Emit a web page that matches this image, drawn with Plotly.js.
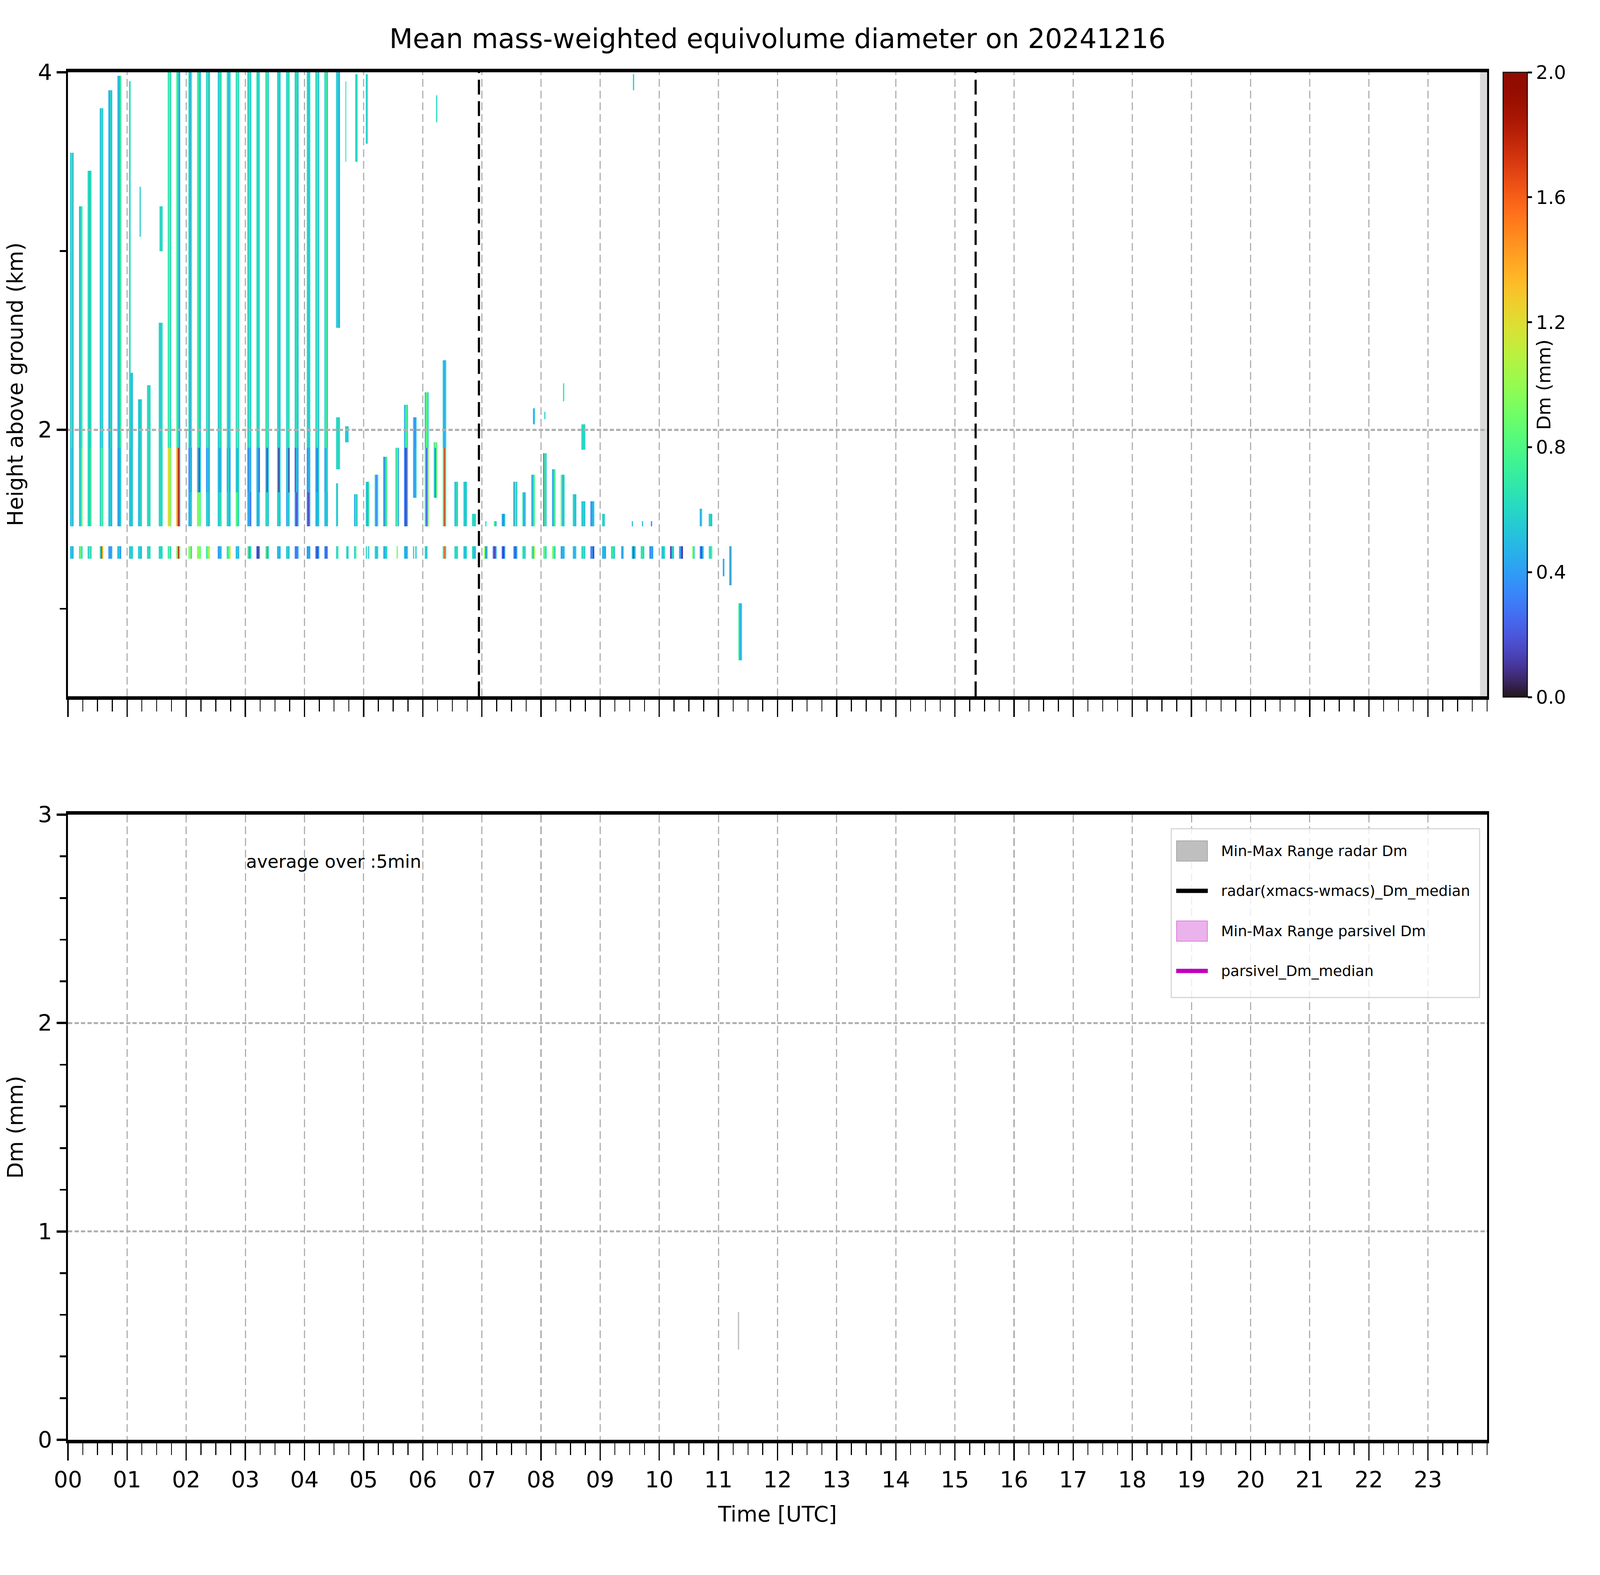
<!DOCTYPE html>
<html><head><meta charset="utf-8">
<script src="https://cdn.plot.ly/plotly-3.0.1.min.js"></script>
<style>html,body{margin:0;padding:0;background:#fff;overflow:hidden;}</style>
</head><body><div id="chart"></div>
<script>
// ---------- DATA ----------
// radar scan centre times, minutes after 00:00 UTC
const scanMin = [4,13,22,34,43,52,64,73,82,94,103,112,124,133,142,154,163,172,184,193,202,214,223,232,244,253,262,274,283,292,304,313,322,334,343,352,364,373,382,394,403,412,424,433,442,454,463,472,484,493,502,514,523,532,544,553,562,574,583,592,604,613,622,634,643,652,664,673,682];
// main echo column bottom / top (km); null = no main column
const colBot = [1.46,1.46,1.46,1.46,1.46,1.46,1.46,1.46,1.46,1.46,1.46,1.46,1.46,1.46,1.46,1.46,1.46,1.46,1.46,1.46,1.46,1.46,1.46,1.46,1.46,1.46,1.46,2.57,null,1.46,1.46,1.46,1.46,1.46,1.46,1.62,1.46,1.62,1.46,1.46,1.46,1.46,1.46,1.46,1.46,1.46,1.46,1.46,1.46,1.46,1.46,1.46,1.46,1.46,1.46,null,null,1.46,1.46,1.46,null,null,null,null,1.46,1.46,1.18,1.13,0.71];
const colTop = [3.55,3.25,3.45,3.8,3.9,3.98,2.32,2.17,2.25,2.6,4,4,4,4,4,4,4,4,4,4,4,4,4,4,4,4,4,4,null,1.64,1.71,1.75,1.85,1.93,2.14,2.07,2.21,1.93,2.39,1.71,1.71,1.53,1.49,1.49,1.53,1.71,1.65,1.75,1.87,1.78,1.75,1.64,1.6,1.6,1.53,null,null,1.49,1.49,1.49,null,null,null,null,1.56,1.53,1.28,1.35,1.03];
// Dm (mm) of the three sub-strips of each scan above 1.9 km
const upperDm = [[0.55,0.75,0.45],[0.45,0.6,0.75],[0.6,0.5,0.7],[0.5,0.7,0.55],[0.45,0.6,0.5],[0.6,0.4,0.7],[0.6,0.55,0.5],[0.55,0.5,0.6],[0.6,0.62,0.58],[0.6,0.55,0.62],[0.65,0.85,0.6],[0.75,0.55,0.4],[0.6,0.45,0.7],[0.75,0.6,0.5],[0.6,0.75,0.5],[0.55,0.7,0.6],[0.7,0.5,0.6],[0.6,0.85,0.6],[0.5,0.75,0.6],[0.65,0.55,0.7],[0.6,0.8,0.55],[0.6,0.58,0.55],[0.58,0.7,0.6],[0.55,0.65,0.5],[0.6,0.55,0.62],[0.55,0.75,0.5],[0.6,0.8,0.5],[0.55,0.62,0.45],null,null,null,null,null,null,[0.45,0.8,0.6],[0.55,0.35,0.5],[0.5,0.85,0.6],[0.7,1.2,0.8],[0.55,0.45,0.6],null,null,null,null,null,null,null,null,null,null,null,null,null,null,null,null,null,null,null,null,null,null,null,null,null,null,null,null,null,null];
// Dm (mm) of the three sub-strips between 1.65 and 1.9 km (also below 1.65 km when baseDm is null)
const lowerDm = [[0.5,0.65,0.45],[0.5,0.6,0.9],[0.6,0.55,0.8],[0.55,0.85,0.7],[0.5,0.55,0.45],[0.5,0.35,0.55],[0.55,0.5,0.55],[0.5,0.55,0.6],[0.6,0.62,0.6],[0.6,0.6,0.6],[1.2,1.25,0.9],[1.4,1.8,0.35],[0.35,0.5,0.4],[0.55,0.15,0.5],[0.4,0.55,0.45],[0.5,0.4,0.55],[0.45,0.6,0.4],[0.55,0.45,0.6],[0.3,0.5,0.45],[0.5,0.45,0.2],[0.55,0.15,0.5],[0.55,0.1,0.55],[0.5,0.55,0.1],[0.2,0.5,0.4],[0.35,0.45,0.5],[0.45,0.3,0.6],[0.4,0.55,0.55],null,null,[0.45,0.75,0.5],[0.55,0.45,0.7],[0.55,0.35,0.65],[0.3,0.55,0.8],[0.6,0.9,0.45],[0.3,0.15,0.55],[0.5,0.4,0.55],[0.7,0.25,0.9],[0.6,0.3,0.9],[0.8,1.7,0.7],[0.5,0.65,0.55],[0.6,0.5,0.55],[0.6,0.6,0.6],[null,0.6,null],[null,0.7,0.5],[0.45,0.3,0.55],[0.35,0.8,0.55],[0.65,0.4,0.7],[0.4,0.6,0.8],[0.3,0.8,0.55],[0.4,0.6,0.85],[0.85,0.45,0.6],[0.6,0.55,0.5],[0.55,0.6,0.5],[0.35,0.45,0.5],[0.6,0.55,null],null,null,[0.5,null,null],[null,0.5,null],[null,0.3,null],null,null,null,null,[0.45,0.6,null],[0.55,0.6,0.5],[null,null,0.45],[0.3,0.7,null],[0.7,0.45,0.55]];
// Dm (mm) of the three sub-strips between 1.46 and 1.65 km where it differs
const baseDm = [null,null,null,null,null,null,null,null,null,null,null,null,[0.45,0.5,0.55],[0.9,0.95,0.8],[0.55,0.6,0.5],[0.55,0.6,0.7],[0.6,0.55,0.5],[0.85,0.7,0.6],[0.4,0.5,0.3],[0.55,0.4,0.6],[0.6,0.65,0.5],[0.55,0.6,0.5],[0.45,0.6,0.5],[0.4,0.2,0.45],[0.3,0.15,0.45],[0.5,0.45,0.55],[0.5,0.55,0.45],null,null,null,null,null,null,null,null,null,null,null,null,null,null,null,null,null,null,null,null,null,null,null,null,null,null,null,null,null,null,null,null,null,null,null,null,null,null,null,null,null,null];
// Dm (mm) of the low gate band (1.28-1.35 km)
const dashDm = [[0.5,0.55,0.45],[0.7,0.9,0.6],[0.6,0.85,0.55],[0.6,1.7,1.3],[0.42,0.4,0.45],[0.45,0.6,0.4],[0.55,0.6,0.55],[0.55,0.6,0.5],[0.6,0.62,0.6],[0.6,0.6,0.6],[0.7,0.9,0.6],[0.95,1.8,0.8],[0.9,1.0,0.6],[0.95,1.0,0.85],[0.7,0.9,1.1],[0.4,0.45,0.5],[0.65,0.75,1.2],[0.5,0.6,0.45],[0.9,0.4,0.6],[0.2,0.1,0.35],[0.95,0.4,0.6],[0.45,0.5,0.45],[0.55,0.6,0.5],[0.35,0.3,0.45],[0.35,0.45,0.4],[0.3,0.15,0.4],[0.35,0.2,0.4],[0.6,0.7,null],[null,0.6,0.58],[0.6,0.8,null],[0.6,null,0.55],[0.6,0.5,0.65],[0.4,0.55,0.6],[null,0.9,null],[0.5,0.4,0.6],[0.6,null,0.5],[0.6,0.55,null],null,[0.7,1.6,0.6],[0.6,0.62,0.6],[0.55,0.5,0.6],[0.6,0.5,0.55],[0.95,0.3,0.6],[0.3,0.15,0.45],[0.25,0.1,0.4],[0.35,0.2,0.45],[0.65,0.55,0.75],[0.9,0.45,1.0],[0.9,0.75,0.6],[0.95,0.75,0.6],[0.4,0.5,0.45],[0.55,0.45,0.6],[0.6,0.7,0.55],[0.3,0.4,0.15],[0.45,0.5,0.4],[0.6,0.75,0.55],[null,0.4,0.45],[0.5,0.15,0.55],[0.6,0.7,0.55],[0.35,0.45,0.4],[0.55,0.5,0.6],[0.15,0.6,0.5],[0.45,0.35,0.1],[null,0.9,0.6],[0.3,0.15,0.5],[0.7,0.6,0.8],null,null,null];
// isolated echo fragments (minutes, km, Dm mm)
const fragStart = [62.1,72.6,92.9,272.1,272.1,281.1,281.5,291.3,302.3,373.6,472.0,483.3,502.2,521.1,573.3];
const fragEnd   = [63.4,73.9,96.0,275.9,274.0,284.9,282.5,293.9,304.0,374.8,474.0,484.4,503.4,524.9,574.3];
const fragBot   = [2.32,3.08,3.0,1.78,1.46,1.93,3.5,3.5,3.6,3.72,2.03,2.06,2.16,1.89,3.9];
const fragTop   = [3.95,3.36,3.25,2.07,1.7,2.02,3.95,3.99,3.99,3.87,2.12,2.1,2.26,2.03,3.99];
const fragDm    = [0.6,0.55,0.6,0.6,0.55,0.55,0.6,0.6,0.58,0.6,0.5,0.6,0.65,0.6,0.55];
const dashBand = [1.28, 1.35];
const upperSplitKm = 1.9, baseSplitKm = 1.65;
const scanHalfWidthMin = 1.87;
// bottom panel, 5-min averages (parsivel has no valid values)
const radarT = [11.34];
const radarMin = [0.433];
const radarMax = [0.613];
const radarMedian = [0.52];
const parsivelT = [11.34];
const parsivelMin = [null];
const parsivelMax = [null];
const parsivelMedian = [null];
const markerHours = [6.95, 15.35];
const noDataStartHour = 23.88;
const hourTicks = Array.from({length:24},(_,i)=>i);
const hourLabels = ['00','01','02','03','04','05','06','07','08','09','10','11','12','13','14','15','16','17','18','19','20','21','22','23'];
const cbTicks = [0,0.4,0.8,1.2,1.6,2.0];
const legendNames = ['Min-Max Range radar Dm','radar(xmacs-wmacs)_Dm_median','Min-Max Range parsivel Dm','parsivel_Dm_median'];

// ---------- viewport scaling (layout designed for 7442 x 4031) ----------
const VW = window.innerWidth || 7442, VH = window.innerHeight || 4031;
const SX = VW/7442, SY = VH/4031, SF = Math.min(SX, SY);
const chartDiv = document.getElementById('chart');
chartDiv.style.width = VW+'px'; chartDiv.style.height = VH+'px';

// ---------- build heatmap grid ----------
const HW = scanHalfWidthMin, SW = 2*HW/3;
const xset = new Set(), yset = new Set();
scanMin.forEach(t => [t-HW, t-HW+SW, t-HW+2*SW, t+HW].forEach(v => xset.add(+v.toFixed(3))));
fragStart.forEach(v=>xset.add(v)); fragEnd.forEach(v=>xset.add(v));
colBot.forEach(v=>{ if(v!=null) yset.add(v); }); colTop.forEach(v=>{ if(v!=null) yset.add(v); });
fragBot.forEach(v=>yset.add(v)); fragTop.forEach(v=>yset.add(v));
dashBand.forEach(v=>yset.add(v)); yset.add(upperSplitKm); yset.add(baseSplitKm);
const xEdges = [...xset].sort((a,b)=>a-b);
const yEdges = [...yset].sort((a,b)=>a-b);
function cellValue(xm, ym){
  for(let f=0; f<fragStart.length; f++){
    if(xm>fragStart[f] && xm<fragEnd[f] && ym>fragBot[f] && ym<fragTop[f]) return fragDm[f];
  }
  for(let k=0;k<scanMin.length;k++){
    const t = scanMin[k];
    if(xm>t-HW && xm<t+HW){
      const s = Math.min(2, Math.floor((xm-(t-HW))/SW));
      if(ym>dashBand[0] && ym<dashBand[1] && dashDm[k]) return dashDm[k][s];
      if(colBot[k]!=null && ym>colBot[k] && ym<colTop[k]){
        let arr;
        if(ym>=upperSplitKm) arr = upperDm[k];
        else if(ym<baseSplitKm && baseDm[k]) arr = baseDm[k];
        else arr = lowerDm[k];
        return arr ? arr[s] : null;
      }
      return null;
    }
  }
  return null;
}
const z = [];
for(let i=0;i<yEdges.length-1;i++){
  const ym = (yEdges[i]+yEdges[i+1])/2, row=[];
  for(let j=0;j<xEdges.length-1;j++) row.push(cellValue((xEdges[j]+xEdges[j+1])/2, ym));
  z.push(row);
}
const xEdgesH = xEdges.map(v=>v/60);

// turbo colormap
function turbo(t){
  const r = 34.61 + t*(1172.33 - t*(10793.56 - t*(33300.12 - t*(38394.49 - t*14825.05))));
  const g = 23.31 + t*(557.33 + t*(1225.33 - t*(3574.96 - t*(1073.77 + t*707.56))));
  const b = 27.2 + t*(3211.1 - t*(15327.97 - t*(27814 - t*(22569.18 - t*6838.66))));
  const c = v => Math.max(0, Math.min(255, Math.round(v)));
  return 'rgb('+c(r)+','+c(g)+','+c(b)+')';
}
const turboScale = [];
for(let i=0;i<=40;i++) turboScale.push([i/40, turbo(i/40)]);

const FONT = 'DejaVu Sans, Verdana, sans-serif';
const fs = v => v*SF;
const px = (v, s) => (v*s).toFixed(2)+'px';
// reference-pixel -> paper coordinates (plot area 317..6917 x 185..3685)
const PX = v => (v-317)/6600, PY = v => (3685-v)/3500;

const traces = [
  {type:'heatmap', x:xEdgesH, y:yEdges, z:z, zmin:0, zmax:2, colorscale:turboScale, zsmooth:false,
   xaxis:'x', yaxis:'y', showlegend:false, hoverongaps:false,
   colorbar:{x:PX(6992), xanchor:'left', xpad:0, ypad:0, y:1, yanchor:'top', len:(1784-185)/3500, lenmode:'fraction',
     thickness:113*SX, outlinewidth:5*SF, outlinecolor:'#111', ticks:'outside', ticklen:21*SX, tickwidth:5*SY, tickcolor:'#111',
     tickvals:cbTicks, ticktext:cbTicks.map(v=>v.toFixed(1)), tickfont:{size:fs(88), family:FONT, color:'#000'},
     title:{text:'Dm (mm)', side:'right', font:{size:fs(88), family:FONT, color:'#000'}}}},
  {type:'scatter', mode:'lines', name:legendNames[0], showlegend:false,
   x: radarT.concat(radarT.slice().reverse()), y: radarMin.concat(radarMax.slice().reverse()),
   fill:'toself', fillcolor:'rgba(128,128,128,0.5)', line:{color:'rgba(128,128,128,0.5)', width:6*SX},
   xaxis:'x2', yaxis:'y2'},
  {type:'scatter', mode:'lines', name:legendNames[1], showlegend:false,
   x: radarT, y: radarMedian, line:{color:'#000', width:10*SF}, xaxis:'x2', yaxis:'y2'},
  {type:'scatter', mode:'lines', name:legendNames[2], showlegend:false,
   x: parsivelT.concat(parsivelT.slice().reverse()), y: parsivelMin.concat(parsivelMax.slice().reverse()),
   fill:'toself', fillcolor:'rgba(204,0,204,0.3)', line:{color:'rgba(204,0,204,0.3)', width:6*SX},
   xaxis:'x2', yaxis:'y2'},
  {type:'scatter', mode:'lines', name:legendNames[3], showlegend:false,
   x: parsivelT, y: parsivelMedian, line:{color:'#bf00bf', width:10*SF}, xaxis:'x2', yaxis:'y2'}
];

const gridV = {color:'#b0b0b0', width:5.5*SX, dash:px(20,SY)+','+px(10,SY)};
const gridH = {color:'#b0b0b0', width:5.5*SY, dash:px(20,SX)+','+px(10,SX)};
const shapes = [];
shapes.push({type:'rect', xref:'x', yref:'y domain', x0:noDataStartHour, x1:24, y0:0, y1:1,
  fillcolor:'#d9d9d9', line:{width:0}, layer:'below'});
hourTicks.filter(h=>h>0).forEach(h => shapes.push({type:'line', xref:'x', yref:'y domain', x0:h, x1:h, y0:0, y1:1, line:gridV, layer:'above'}));
[2].forEach(v => shapes.push({type:'line', xref:'x domain', yref:'y', x0:0, x1:1, y0:v, y1:v, line:gridH, layer:'above'}));
markerHours.forEach(h => shapes.push({type:'line', xref:'x', yref:'y domain', x0:h, x1:h, y0:0, y1:1,
  line:{color:'#000', width:10*SX, dash:px(38,SY)+','+px(17,SY)}, layer:'above'}));

// legend box (matplotlib style)
const legRows = [2178, 2280, 2383, 2485];
shapes.push({type:'rect', xref:'paper', yref:'paper', x0:PX(5448), x1:PX(6882), y0:PY(2553), y1:PY(2121),
  fillcolor:'rgba(255,255,255,0.8)', line:{color:'#d5d5d5', width:5*SF}, layer:'above'});
shapes.push({type:'rect', xref:'paper', yref:'paper', x0:PX(5473), x1:PX(5616), y0:PY(legRows[0]+26), y1:PY(legRows[0]-26),
  fillcolor:'#bfbfbf', line:{color:'#a8a8a8', width:4*SF}, layer:'above'});
shapes.push({type:'line', xref:'paper', yref:'paper', x0:PX(5471), x1:PX(5618), y0:PY(legRows[1]), y1:PY(legRows[1]),
  line:{color:'#000', width:11*SY}, layer:'above'});
shapes.push({type:'rect', xref:'paper', yref:'paper', x0:PX(5473), x1:PX(5616), y0:PY(legRows[2]+26), y1:PY(legRows[2]-26),
  fillcolor:'#ebb3eb', line:{color:'#e080e0', width:4*SF}, layer:'above'});
shapes.push({type:'line', xref:'paper', yref:'paper', x0:PX(5471), x1:PX(5618), y0:PY(legRows[3]), y1:PY(legRows[3]),
  line:{color:'#bf00bf', width:11*SY}, layer:'above'});
const legendAnn = legendNames.map((n,i)=>({xref:'paper', yref:'paper', x:PX(5676), y:PY(legRows[i]), xanchor:'left', yanchor:'middle',
  showarrow:false, text:n, font:{size:fs(68), family:FONT, color:'#000'}}));

const xLine = {showline:true, linewidth:9*SY, linecolor:'#000', mirror:true, zeroline:false,
  ticks:'outside', ticklen:44*SY, tickwidth:6*SX, tickcolor:'#000', tickfont:{size:fs(104), family:FONT, color:'#000'}};
const yLine = {showline:true, linewidth:9*SX, linecolor:'#000', mirror:true, zeroline:false,
  ticks:'outside', ticklen:44*SX, tickwidth:6*SY, tickcolor:'#000', tickfont:{size:fs(104), family:FONT, color:'#000'}};
const minorX = {ticks:'outside', ticklen:30*SY, tickwidth:4.5*SX, tickcolor:'#000', showgrid:false};
const minorY = {ticks:'outside', ticklen:30*SX, tickwidth:4.5*SY, tickcolor:'#000', showgrid:false};
const layout = {
  width:VW, height:VH,
  margin:{l:317*SX, r:525*SX, t:185*SY, b:346*SY, pad:0},
  paper_bgcolor:'#fff', plot_bgcolor:'#fff',
  font:{family:FONT, color:'#000', size:fs(100)},
  showlegend:false,
  title:{text:'Mean mass-weighted equivolume diameter on 20241216', font:{size:fs(126), family:FONT, color:'#000'},
    x:0.5, xref:'paper', xanchor:'center', y:0.9755, yref:'container', yanchor:'middle'},
  xaxis:Object.assign({}, xLine, {domain:[0,1], anchor:'y', range:[0,24], tickmode:'array', tickvals:hourTicks,
    showticklabels:false, showgrid:false,
    minor:Object.assign({tickmode:'linear', tick0:0, dtick:0.25}, minorX)}),
  yaxis:Object.assign({}, yLine, {domain:[PY(1782),1], anchor:'x', range:[0.51,4], tickmode:'array', tickvals:[2,4], ticktext:['2','4'],
    showgrid:false,
    minor:Object.assign({tickmode:'array', tickvals:[1,3]}, minorY),
    title:{text:'Height above ground (km)', font:{size:fs(100), family:FONT, color:'#000'}, standoff:40*SX}}),
  xaxis2:Object.assign({}, xLine, {domain:[0,1], anchor:'y2', range:[0,24], tickmode:'array', tickvals:hourTicks, ticktext:hourLabels,
    showgrid:true, gridcolor:'#b0b0b0', gridwidth:5.5*SX, griddash:gridV.dash,
    minor:Object.assign({tickmode:'linear', tick0:0, dtick:0.25}, minorX),
    title:{text:'Time [UTC]', font:{size:fs(100), family:FONT, color:'#000'}, standoff:40*SY}}),
  yaxis2:Object.assign({}, yLine, {domain:[0,PY(2085)], anchor:'x2', range:[0,3], tickmode:'array', tickvals:[0,1,2,3],
    showgrid:true, gridcolor:'#b0b0b0', gridwidth:5.5*SY, griddash:gridH.dash,
    minor:Object.assign({tickmode:'linear', tick0:0, dtick:0.2}, minorY),
    title:{text:'Dm (mm)', font:{size:fs(100), family:FONT, color:'#000'}, standoff:40*SX}}),
  shapes:shapes,
  annotations:[{xref:'x2', yref:'y2', x:3.0, y:2.775, xanchor:'left', yanchor:'middle', showarrow:false,
    text:'average over :5min', font:{size:fs(83), family:FONT, color:'#000'}}].concat(legendAnn)
};
Plotly.newPlot('chart', traces, layout, {staticPlot:true});
</script></body></html>
